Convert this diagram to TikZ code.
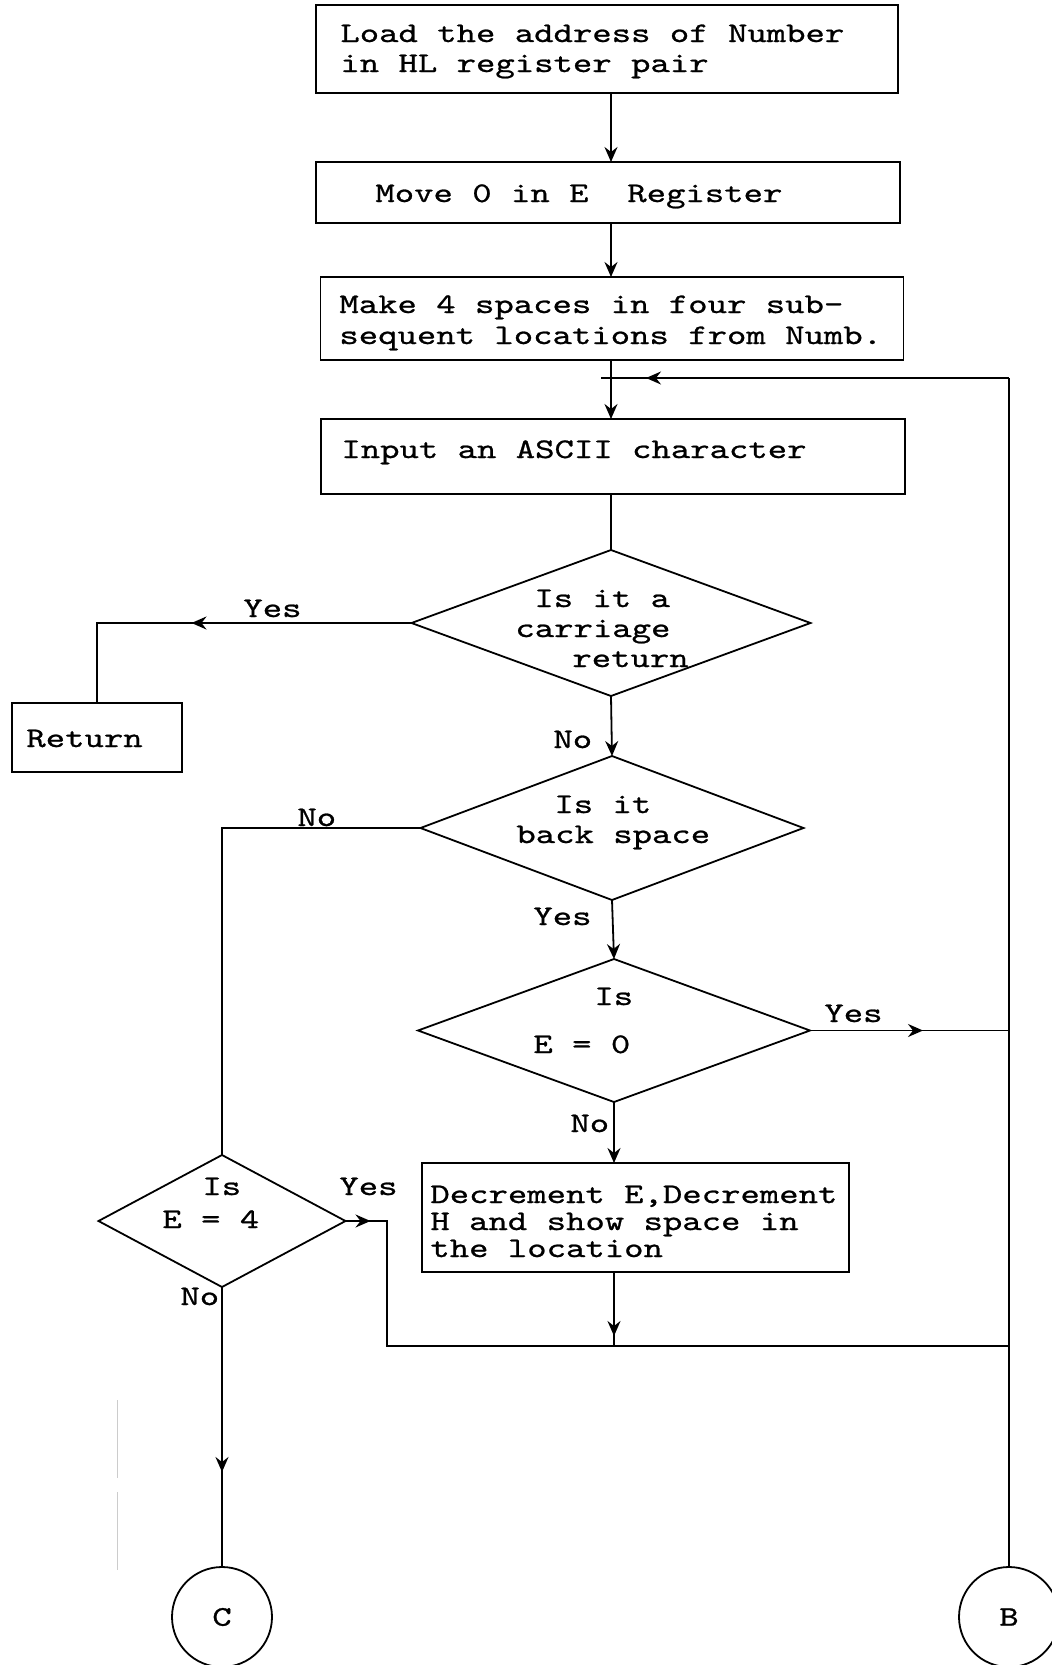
\documentclass[tikz,border=0pt]{standalone}
\usepackage{fontspec}
\usetikzlibrary{arrows.meta,shapes.geometric,decorations.markings}
% typewriter face, stretched to the wide pitch of the typed chart
\newfontfamily\tw[FakeStretch=1.3,FakeBold=0.8]{lmmono10-regular.otf}

\tikzset{
  conn/.style={line width=0.9pt},
  >={Stealth[length=7.5pt,width=6.5pt,inset=2.5pt]},
  tipat/.style={postaction={decorate},
    decoration={markings, mark=at position #1 with {\arrow{>}}}},
  procbox/.style={draw, line width=0.9pt, rectangle, inner sep=0pt, outer sep=0pt},
  decision/.style={draw, line width=0.9pt, diamond, inner sep=0pt, outer sep=0pt},
  connector/.style={draw, line width=0.9pt, circle, inner sep=0pt, outer sep=0pt,
    minimum size=50pt, font=\tw\fontsize{14.2}{15}\selectfont},
  txt/.style={inner sep=0pt, anchor=base west, font=\tw\fontsize{14.2}{15}\selectfont},
}

\begin{document}
\begin{tikzpicture}[x=0.5pt,y=-0.5pt]
\useasboundingbox (0,0) rectangle (1052,1665);
\clip (0,0) rectangle (1052,1665);
\fill[white] (0,0) rectangle (1052,1665);

% ---------- process boxes ----------
\node[procbox, minimum width=291pt, minimum height=44pt]   (b1)  at (607,49) {};
\node[procbox, minimum width=292pt, minimum height=30.5pt] (b2)  at (608,192.5) {};
\node[procbox, minimum width=291.5pt, minimum height=41.5pt] (b3) at (612,318.5) {};
\node[procbox, minimum width=292pt, minimum height=37.5pt] (b4)  at (613,456.5) {};
\node[procbox, minimum width=85pt, minimum height=34.5pt]  (ret) at (97,737.5) {};
\node[procbox, minimum width=213.5pt, minimum height=54.5pt] (dec) at (635.5,1217.5) {};

% ---------- decisions ----------
\node[decision, minimum width=199.5pt, minimum height=73pt]  (d1) at (611,623) {};
\node[decision, minimum width=191.5pt, minimum height=72pt]  (d2) at (612,828) {};
\node[decision, minimum width=196pt, minimum height=71.5pt]  (d3) at (614,1030.5) {};
\node[decision, minimum width=123.5pt, minimum height=66pt]  (d4) at (222,1221) {};

% ---------- off-page connectors ----------
\node[connector] (cc) at (222,1617) {C};
\node[connector] (bc) at (1009,1617) {B};

% ---------- texts ----------
\node[txt] (t1a) at (340,42)  {Load the address of Number};
\node[txt] (t1b) at (340,72)  {in HL register pair};
\node[txt] (t2)  at (375,202) {Move 0 in E\ \ Register};
\node[txt] (t3a) at (339,313) {Make 4 spaces in four sub-};
\node[txt] (t3b) at (339,344) {sequent locations from Numb.};
\node[txt] (t4)  at (341,458) {Input an ASCII character};
\node[txt] (q1a) at (534,607) {Is it a};
\node[txt] (q1b) at (515,637) {carriage};
\node[txt] (q1c) at (572,667) {return};
\node[txt] (tr)  at (26,747)  {Return};
\node[txt] (q2a) at (554,813) {Is it};
\node[txt] (q2b) at (516,843) {back space};
\node[txt] (q3a) at (594,1005) {Is};
\node[txt] (q3b) at (533,1053) {E = 0};
\node[txt] (q4a) at (202,1195) {Is};
\node[txt] (q4b) at (162,1228) {E = 4};
\node[txt] (t5a) at (430,1203) {Decrement E,Decrement};
\node[txt] (t5b) at (430,1230) {H and show space in};
\node[txt] (t5c) at (430,1257) {the location};

% branch labels
\node[txt] (y1) at (243,617)  {Yes};
\node[txt] (n1) at (553,748)  {No};
\node[txt] (n2) at (297,826)  {No};
\node[txt] (y2) at (533,925)  {Yes};
\node[txt] (y3) at (824,1022) {Yes};
\node[txt] (n3) at (570,1132) {No};
\node[txt] (y4) at (339,1195) {Yes};
\node[txt] (n4) at (180,1305) {No};

% ---------- junction points ----------
\coordinate (ax) at (611,0);
\coordinate (rt) at (1009,378);
\coordinate (jn) at (601,378);
\coordinate (bl) at (387,1346);
\coordinate (br) at (1009,1346);

% ---------- connectors ----------
\draw[conn,->] (b1.south -| ax) -- (b2.north -| ax);
\draw[conn,->] (b2.south -| ax) -- (b3.north -| ax);
\draw[conn,->] (b3.south -| ax) -- (b4.north -| ax);
\draw[conn,tipat=181.5pt] (rt) -- (jn);
\draw[conn] (b4.south -| ax) -- (d1.north);

\draw[conn,tipat=110pt] (d1.west) -- (d1.west -| ret.north) -- (ret.north);
\draw[conn,->] (d1.south) -- (d2.north);

\draw[conn] (d2.west) -- (d2.west -| d4.north) -- (d4.north);
\draw[conn,->] (d2.south) -- (d3.north);

\draw[conn,tipat=56.5pt] (d3.east) -- (d3.east -| rt);
\draw[conn] (rt) -- (bc.north);
\draw[conn,->] (d3.south) -- (d3.south |- dec.north);

\draw[conn,tipat=-5pt] (dec.south -| d3.south) -- (d3.south |- bl);
\draw[conn,tipat=12.5pt] (d4.east) -- (d4.east -| bl) -- (bl) -- (br);
\draw[conn,tipat=92.5pt] (d4.south) -- (cc.north);

% faint pencil stroke at the left margin
\draw[gray!40, line width=0.5pt] (117,1400) -- (117,1478) (117,1492) -- (117,1570);
\end{tikzpicture}
\end{document}
